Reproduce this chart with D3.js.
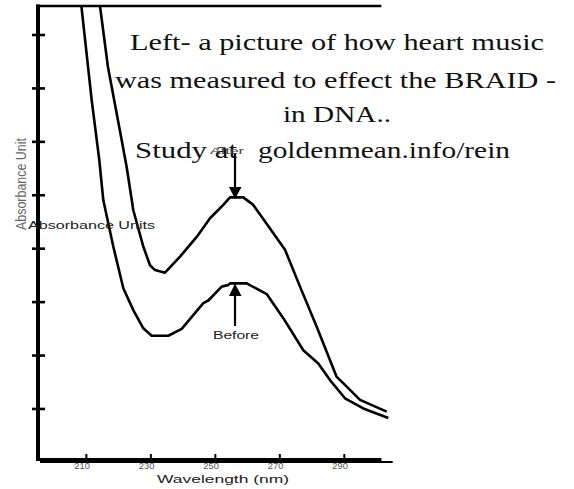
<!DOCTYPE html>
<html>
<head>
<meta charset="utf-8">
<script src="https://cdn.jsdelivr.net/npm/d3@7"></script>
<style>
  html, body { margin: 0; padding: 0; background: #fff; }
  svg { display: block; }
</style>
</head>
<body>
<svg id="chart" width="574" height="489"></svg>
<script>
// ---- data (wavelength in nm, absorbance in arbitrary units) ----
const afterWavelength = [213.45, 216.7, 220.96, 222.5, 224.56, 227.66, 229.74, 231.29, 234.39, 239.04, 244.22, 248.35, 252.47, 254.55, 258.67, 261.77, 266.95, 271.61, 276.26, 281.44, 287.64, 290.21, 294.87, 303.15];
const afterAbsorbance = [8.90, 7.40, 6.03, 5.53, 4.72, 4.04, 3.69, 3.60, 3.55, 3.85, 4.22, 4.57, 4.82, 4.96, 4.96, 4.82, 4.38, 3.98, 3.29, 2.54, 1.60, 1.45, 1.17, 0.95];
const beforeWavelength = [207.81, 211.65, 214.01, 215.25, 218.35, 221.46, 224.56, 227.66, 230.26, 235.41, 239.57, 246.27, 247.82, 251.97, 254.02, 254.55, 259.73, 265.93, 271.08, 277.28, 281.93, 285.56, 290.21, 295.89, 303.65];
const beforeAbsorbance = [8.90, 6.78, 5.66, 4.91, 4.04, 3.26, 2.85, 2.51, 2.37, 2.37, 2.50, 2.98, 3.03, 3.29, 3.32, 3.35, 3.35, 3.15, 2.70, 2.10, 1.85, 1.54, 1.20, 1.01, 0.83];
const xTickValues = [210, 230, 250, 270, 290];
const xTickLabels = ["210", "230", "250", "270", "290"];
const yTickValues = [1, 2, 3, 4, 5, 6, 7, 8];
const peakWavelength = 256.1;
const titleLines = ["Left- a picture of how heart music", "was measured to effect the BRAID -", "in DNA..", "Study at", "goldenmean.info/rein"];

// ---- scales ----
const x = d3.scaleLinear().domain([195, 302]).range([38, 383]);
const y = d3.scaleLinear().domain([0, 8.55]).range([462.4, 5.6]);

const svg = d3.select("#chart");
const sans = "'Liberation Sans', Arial, sans-serif";
const serif = "'Liberation Serif', 'Times New Roman', serif";

svg.append("defs").append("clipPath").attr("id", "plotClip")
  .append("rect").attr("x", 0).attr("y", 6).attr("width", 574).attr("height", 483);

// ---- curves ----
const line = d3.line().x(d => x(d[0])).y(d => y(d[1]));
const afterData = afterWavelength.map((w, i) => [w, afterAbsorbance[i]]);
const beforeData = beforeWavelength.map((w, i) => [w, beforeAbsorbance[i]]);

const curves = svg.append("g").attr("clip-path", "url(#plotClip)");
[afterData, beforeData].forEach(d => {
  curves.append("path").datum(d).attr("d", line)
    .attr("fill", "none").attr("stroke", "#000").attr("stroke-width", 2.6)
    .attr("stroke-linejoin", "round");
});

// ---- axes frame ----
const x0 = x.range()[0];
svg.append("line").attr("x1", x0).attr("x2", x0).attr("y1", 4.5).attr("y2", 461)
  .attr("stroke", "#000").attr("stroke-width", 4);
svg.append("line").attr("x1", x0 - 2).attr("x2", x(301.5)).attr("y1", 6).attr("y2", 6)
  .attr("stroke", "#000").attr("stroke-width", 2.5);

// y ticks crossing the axis
svg.append("g").selectAll("line").data(yTickValues).join("line")
  .attr("x1", x0 - 6).attr("x2", x0 + 7)
  .attr("y1", d => y(d)).attr("y2", d => y(d))
  .attr("stroke", "#000").attr("stroke-width", 2.6);

// x tick labels (drawn beneath the axis line)
svg.append("g").selectAll("text").data(xTickValues).join("text")
  .attr("x", d => x(d) - 12).attr("y", 468.5)
  .attr("textLength", 15.5).attr("lengthAdjust", "spacingAndGlyphs")
  .attr("font-family", sans).attr("font-size", 8.5).attr("fill", "#555")
  .text((d, i) => xTickLabels[i]);

// bottom axis (doubled line)
svg.append("line").attr("x1", x0).attr("x2", x(301.5)).attr("y1", 459.5).attr("y2", 459.5)
  .attr("stroke", "#000").attr("stroke-width", 3);
svg.append("line").attr("x1", x0 + 2).attr("x2", x(305)).attr("y1", 462).attr("y2", 462)
  .attr("stroke", "#000").attr("stroke-width", 2);

// x ticks (upward)
svg.append("g").selectAll("line").data(xTickValues).join("line")
  .attr("x1", d => x(d)).attr("x2", d => x(d))
  .attr("y1", 454).attr("y2", 460)
  .attr("stroke", "#000").attr("stroke-width", 2);

// ---- axis titles ----
svg.append("text").attr("x", 157).attr("y", 482.6)
  .attr("textLength", 132).attr("lengthAdjust", "spacingAndGlyphs")
  .attr("font-family", sans).attr("font-size", 10.7).attr("fill", "#222")
  .text("Wavelength (nm)");

svg.append("text")
  .attr("transform", "translate(25.5,184) scale(1.24,1) rotate(-90)")
  .attr("text-anchor", "middle")
  .attr("textLength", 92).attr("lengthAdjust", "spacingAndGlyphs")
  .attr("font-family", sans).attr("font-size", 12.4).attr("fill", "#666")
  .text("Absorbance Unit");

svg.append("text").attr("x", 28).attr("y", 229.3)
  .attr("textLength", 127).attr("lengthAdjust", "spacingAndGlyphs")
  .attr("font-family", sans).attr("font-size", 10.7).attr("fill", "#222")
  .text("Absorbance Units");

// ---- title block ----
const titleSpecs = [
  {x: 130, y: 50, w: 414},
  {x: 115, y: 87.5, w: 441},
  {x: 283, y: 121.7, w: 108},
  {x: 135, y: 158, w: 102},
  {x: 258, y: 158, w: 252}
];
svg.append("g").selectAll("text").data(titleLines).join("text")
  .attr("x", (d, i) => titleSpecs[i].x).attr("y", (d, i) => titleSpecs[i].y)
  .attr("textLength", (d, i) => titleSpecs[i].w).attr("lengthAdjust", "spacingAndGlyphs")
  .attr("font-family", serif).attr("font-size", 22.2).attr("fill", "#111")
  .text(d => d);

// ---- annotations (arrows point at the absorbance hump near 256 nm) ----
const ax = x(peakWavelength);
const humpMax = (ws, vs) => d3.max(vs.filter((v, i) => ws[i] > 240));
const afterPeak = y(humpMax(afterWavelength, afterAbsorbance));
const beforePeak = y(humpMax(beforeWavelength, beforeAbsorbance));

svg.append("text").attr("x", ax - 25).attr("y", 153.5)
  .attr("textLength", 34).attr("lengthAdjust", "spacingAndGlyphs")
  .attr("font-family", sans).attr("font-size", 9.8).attr("fill", "#444")
  .text("After");
svg.append("line").attr("x1", ax).attr("x2", ax).attr("y1", 153.5).attr("y2", afterPeak - 9)
  .attr("stroke", "#000").attr("stroke-width", 2.2);
svg.append("path")
  .attr("d", `M${ax - 6},${afterPeak - 10.5} L${ax + 6.5},${afterPeak - 10.5} L${ax},${afterPeak + 1.5} Z`)
  .attr("fill", "#000");

svg.append("line").attr("x1", ax).attr("x2", ax).attr("y1", beforePeak + 10).attr("y2", 326)
  .attr("stroke", "#000").attr("stroke-width", 2.2);
svg.append("path")
  .attr("d", `M${ax - 6},${beforePeak + 12.5} L${ax + 6.5},${beforePeak + 12.5} L${ax},${beforePeak} Z`)
  .attr("fill", "#000");
svg.append("text").attr("x", ax - 22).attr("y", 339)
  .attr("textLength", 46).attr("lengthAdjust", "spacingAndGlyphs")
  .attr("font-family", sans).attr("font-size", 10.5).attr("fill", "#222")
  .text("Before");
</script>
</body>
</html>
